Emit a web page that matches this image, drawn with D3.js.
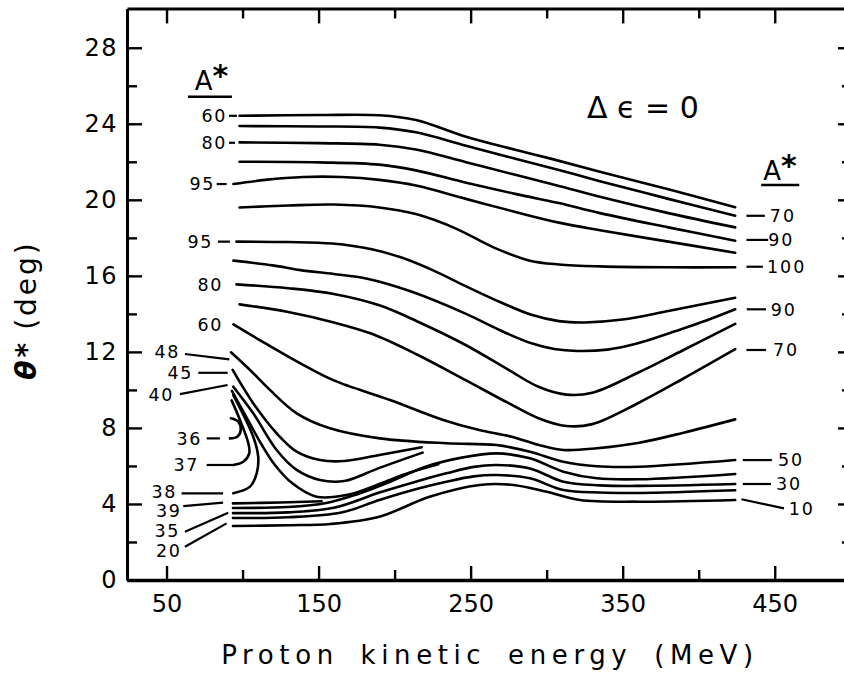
<!DOCTYPE html>
<html>
<head>
<meta charset="utf-8">
<script src="https://cdn.jsdelivr.net/npm/d3@7/dist/d3.min.js"></script>
<style>
  html, body { margin: 0; padding: 0; background: #fff; }
  svg { display: block; }
  text { font-family: "DejaVu Sans", sans-serif; fill: #000; }
</style>
</head>
<body>
<svg id="chart" width="844" height="682"></svg>
<script>
// ---------- axis ticks ----------
const energyMajorTicks = [50, 150, 250, 350, 450];
const energyMinorTicks = [100, 200, 300, 400];
const thetaMajorTicks = [0, 4, 8, 12, 16, 20, 24, 28];
const thetaMinorTicks = [2, 6, 10, 14, 18, 22, 26];

// ---------- curves: [proton kinetic energy (MeV), theta* (deg)] ----------
// upper family (flat, then falling)
const curveU1 = [[98,24.42],[150,24.46],[190,24.45],[214,24.2],[247,23.32],[280,22.62],[302,22.18],[335,21.48],[380,20.55],[424,19.61]];
const curveU2 = [[98,23.88],[150,23.86],[190,23.8],[214,23.55],[247,22.85],[280,22.15],[308,21.57],[335,20.98],[380,20.05],[424,19.16]];
const curveU3 = [[98,23.02],[150,22.98],[190,22.9],[214,22.65],[247,21.98],[280,21.3],[308,20.73],[335,20.16],[380,19.3],[424,18.55]];
const curveU4 = [[98,22.0],[150,21.97],[190,21.85],[214,21.55],[247,20.9],[280,20.3],[308,19.83],[335,19.3],[380,18.55],[424,17.85]];
const curveU5 = [[94,20.83],[115,21.05],[140,21.2],[165,21.2],[190,21.05],[214,20.75],[247,20.05],[280,19.35],[308,18.8],[335,18.4],[380,17.8],[424,17.22]];
const curveU6 = [[98,19.6],[130,19.7],[160,19.75],[190,19.6],[214,19.25],[240,18.5],[265,17.5],[289,16.8],[308,16.6],[335,16.5],[380,16.45],[424,16.45]];
// middle family (falling to a minimum, then rising)
const curveM1 = [[96,17.8],[130,17.78],[159,17.7],[185,17.4],[205,16.95],[225,16.3],[247,15.45],[270,14.6],[290,13.95],[308,13.62],[325,13.55],[350,13.7],[380,14.15],[424,14.85]];
const curveM2 = [[94,16.8],[120,16.55],[138,16.3],[160,16.1],[182,15.85],[210,15.2],[247,14.0],[269,13.15],[290,12.45],[305,12.15],[320,12.05],[340,12.12],[360,12.45],[385,13.1],[405,13.65],[424,14.24]];
const curveM3 = [[96,15.55],[130,15.35],[160,15.05],[190,14.45],[215,13.6],[247,12.35],[275,11.05],[295,10.15],[313,9.75],[330,9.85],[360,10.9],[390,12.1],[424,13.47]];
const curveM4 = [[98,14.5],[130,14.1],[160,13.55],[185,12.95],[215,11.85],[247,10.5],[275,9.3],[295,8.5],[313,8.1],[330,8.2],[360,9.3],[390,10.6],[424,12.14]];
const curveM5 = [[94,13.45],[115,12.45],[138,11.4],[160,10.5],[197,9.47],[232,8.42],[255,7.9],[277,7.54],[295,7.1],[311,6.84],[333,6.93],[361,7.22],[390,7.75],[424,8.45]];
// lower-left steep family
const curveA48 = [[92.4,11.98],[104.9,11.05],[118,10.0],[135.6,8.77],[157.5,7.98],[190.3,7.45],[234.2,7.19],[267,7.1],[289,6.75],[311,6.22],[333,5.98],[361,5.96],[424,6.31]];
const curveA45 = [[93.5,11.05],[107,9.3],[122.4,7.72],[135.6,6.75],[150.9,6.31],[167,6.26],[190,6.58],[217.8,6.98]];
const curveA40 = [[93.9,10.17],[107,8.77],[122.4,6.84],[135.6,5.79],[150.9,5.26],[167,5.21],[190,5.9],[218.4,6.7]];
const curveSteep4 = [[93,9.95],[103.5,8.42],[112.7,7.1],[121.3,6.05],[132.5,5.1],[148.7,4.38],[170,4.5],[190,5.05],[210,5.65],[228.7,6.09]];
const curveA38 = [[93.9,9.72],[107,7.54],[110.3,6.49],[109.3,5.61],[104.9,4.91],[93.9,4.56]];
const curveA37 = [[92.8,9.45],[98.3,8.42],[103.8,7.19],[104.4,6.66],[100.5,6.22],[93.9,6.05]];
const curveA36 = [[92.4,8.51],[97.2,8.33],[98.8,7.89],[96.5,7.54],[91.7,7.45]];
// bottom family
const curveA39 = [[93.7,4.03],[125,4.08],[152,4.14]];
const curveB1 = [[93.7,3.79],[130,3.84],[155,4.05],[175,4.5],[195,5.1],[220,5.95],[245,6.45],[267,6.66],[289,6.4],[311,5.7],[333,5.35],[361,5.3],[424,5.58]];
const curveB2 = [[93.7,3.52],[130,3.56],[160,3.8],[190,4.6],[215,5.2],[234,5.61],[252,5.95],[267,6.05],[289,5.87],[311,5.17],[335,4.98],[361,4.95],[424,5.05]];
const curveB3 = [[93.7,3.26],[130,3.3],[165,3.55],[190,4.21],[215,4.8],[234,5.17],[252,5.45],[267,5.52],[289,5.35],[311,4.73],[335,4.6],[361,4.58],[424,4.72]];
const curveB4 = [[93.7,2.84],[130,2.88],[158,2.95],[190,3.33],[223,4.38],[256,5.0],[278,5.0],[300,4.64],[322,4.21],[361,4.12],[424,4.21]];

const allCurves = [curveU1, curveU2, curveU3, curveU4, curveU5, curveU6,
  curveM1, curveM2, curveM3, curveM4, curveM5,
  curveA48, curveA45, curveA40, curveSteep4, curveA38, curveA37, curveA36,
  curveA39, curveB1, curveB2, curveB3, curveB4];

// ---------- A* labels (text, anchor energy, anchor theta) ----------
const leftLabelText  = ["60","80","95","95","80","60","48","45","40","36","37","38","39","35","20"];
const leftLabelE     = [89.7,89.7,81.9,80.5,87.1,87.1,58.8,67.4,54.9,73.3,71.3,56.9,59.9,58.8,59.9];
const leftLabelTheta = [24.42,23.0,20.83,17.8,15.55,13.45,12.0,10.9,9.73,7.45,6.05,4.62,3.62,2.6,1.55];
// leader lines [E1, theta1, E2, theta2]
const leftLeaders = [
  [91.1,24.42,96.3,24.42],[91.1,23.0,95.0,23.0],[83.0,20.83,89.5,20.83],[83.8,17.8,91.7,17.8],
  [62.1,11.89,91.3,11.61],[70.9,10.9,90.2,10.9],[58.8,9.78,90.2,10.26],
  [76.4,7.45,85.1,7.45],[76.4,6.05,93.9,6.05],[59.9,4.56,87.2,4.56],
  [61.0,3.89,87.2,4.07],[62.1,2.54,90.6,3.54],[62.1,1.75,89.5,2.98]
];
const rightLabelText  = ["70","90","100","90","70","50","30","10"];
const rightLabelE     = [446.8,445.7,444.9,447.3,448.8,452.1,450.8,459.2];
const rightLabelTheta = [19.16,17.89,16.48,14.24,12.1,6.31,5.05,3.73];
const rightLeaders = [
  [431.4,19.16,443.5,19.16],[431.4,17.89,445.7,17.89],[431.4,16.48,442.2,16.48],
  [431.6,14.24,444.2,14.24],[431.4,12.1,444.2,12.1],[429.0,6.31,448.1,6.31],
  [429.0,5.05,447.5,5.05],[428.1,4.25,456.1,3.77]
];

// ---------- drawing ----------
const svg = d3.select("#chart");
const x = d3.scaleLinear().domain([24, 499.5]).range([127, 850]);
const y = d3.scaleLinear().domain([0, 30.07]).range([580, 8.4]);

const axisStroke = 3;
function styleAxis(g, fontSize) {
  g.select(".domain").attr("stroke", "#000").attr("stroke-width", axisStroke);
  g.selectAll(".tick line").attr("stroke", "#000").attr("stroke-width", 2.4);
  g.selectAll(".tick text").attr("font-size", fontSize).attr("font-family", "DejaVu Sans").attr("fill", "#000");
}

// bottom axis
const gB = svg.append("g").attr("transform", `translate(0,${y(0)})`)
  .call(d3.axisBottom(x).tickValues(energyMajorTicks).tickSizeInner(-14).tickSizeOuter(0).tickPadding(15).tickFormat(d3.format("d")));
styleAxis(gB, 24);
gB.select(".domain").attr("stroke-width", 3.6);
const gBm = svg.append("g").attr("transform", `translate(0,${y(0)})`)
  .call(d3.axisBottom(x).tickValues(energyMinorTicks).tickSizeInner(-10).tickSizeOuter(0).tickFormat(""));
styleAxis(gBm, 0); gBm.select(".domain").remove();

// top axis
const gT = svg.append("g").attr("transform", `translate(0,${y(30.07)})`)
  .call(d3.axisTop(x).tickValues(energyMajorTicks).tickSizeInner(-15).tickSizeOuter(0).tickFormat(""));
styleAxis(gT, 0);
const gTm = svg.append("g").attr("transform", `translate(0,${y(30.07)})`)
  .call(d3.axisTop(x).tickValues(energyMinorTicks).tickSizeInner(-10).tickSizeOuter(0).tickFormat(""));
styleAxis(gTm, 0); gTm.select(".domain").remove();

// left axis
const gL = svg.append("g").attr("transform", `translate(${x(24)},0)`)
  .call(d3.axisLeft(y).tickValues(thetaMajorTicks).tickSizeInner(-15).tickSizeOuter(0).tickPadding(9).tickFormat(d3.format("d")));
styleAxis(gL, 24);
gL.selectAll(".tick text").attr("letter-spacing", 1.5);
const gLm = svg.append("g").attr("transform", `translate(${x(24)},0)`)
  .call(d3.axisLeft(y).tickValues(thetaMinorTicks).tickSizeInner(-10).tickSizeOuter(0).tickFormat(""));
styleAxis(gLm, 0); gLm.select(".domain").remove();

// right axis
const gR = svg.append("g").attr("transform", `translate(${x(499.5)},0)`)
  .call(d3.axisRight(y).tickValues(thetaMajorTicks).tickSizeInner(-12).tickSizeOuter(0).tickFormat(""));
styleAxis(gR, 0);
const gRm = svg.append("g").attr("transform", `translate(${x(499.5)},0)`)
  .call(d3.axisRight(y).tickValues(thetaMinorTicks).tickSizeInner(-8).tickSizeOuter(0).tickFormat(""));
styleAxis(gRm, 0); gRm.select(".domain").remove();

// curves
const line = d3.line().x(d => x(d[0])).y(d => y(d[1])).curve(d3.curveCatmullRom.alpha(0.5));
svg.append("g").selectAll("path").data(allCurves).join("path")
  .attr("d", line).attr("fill", "none").attr("stroke", "#000")
  .attr("stroke-width", 2.6).attr("stroke-linecap", "round").attr("stroke-linejoin", "round");

// leaders
const leaders = leftLeaders.concat(rightLeaders);
svg.append("g").selectAll("line").data(leaders).join("line")
  .attr("x1", d => x(d[0])).attr("y1", d => y(d[1]))
  .attr("x2", d => x(d[2])).attr("y2", d => y(d[3]))
  .attr("stroke", "#000").attr("stroke-width", 2.2);

// curve labels
svg.append("g").selectAll("text").data(leftLabelText).join("text")
  .attr("x", (d, i) => x(leftLabelE[i])).attr("y", (d, i) => y(leftLabelTheta[i]))
  .attr("dy", "0.36em").attr("text-anchor", "end").attr("font-size", 17.5).attr("letter-spacing", 1.6)
  .text(d => d);
svg.append("g").selectAll("text").data(rightLabelText).join("text")
  .attr("x", (d, i) => x(rightLabelE[i])).attr("y", (d, i) => y(rightLabelTheta[i]))
  .attr("dy", "0.36em").attr("text-anchor", "start").attr("font-size", 17.5).attr("letter-spacing", 2)
  .text(d => d);

// A* headers
function header(eCenter, thBase, eU1, eU2, thU) {
  const t = svg.append("text").attr("x", x(eCenter)).attr("y", y(thBase))
    .attr("text-anchor", "middle").attr("font-size", 26);
  t.append("tspan").text("A");
  t.append("tspan").attr("font-size", 30).attr("font-weight", "bold").attr("dy", -4).text("*");
  svg.append("line").attr("x1", x(eU1)).attr("x2", x(eU2)).attr("y1", y(thU)).attr("y2", y(thU))
    .attr("stroke", "#000").attr("stroke-width", 2.4);
}
header(79.5, 25.8, 64.1, 93.0, 25.42);
header(453.5, 21.03, 441.1, 466.1, 20.78);

// delta epsilon annotation
svg.append("text").attr("x", x(326.5)).attr("y", y(24.3)).attr("font-size", 30)
  .text("\u0394 \u03F5 = 0");

// axis titles
svg.append("text").attr("x", 490).attr("y", 664).attr("text-anchor", "middle")
  .attr("font-size", 26).attr("letter-spacing", 5.6).attr("word-spacing", 8)
  .text("Proton kinetic energy (MeV)");
const yt = svg.append("text").attr("transform", "translate(36,310) rotate(-90)")
  .attr("text-anchor", "middle").attr("font-size", 28).attr("letter-spacing", 3);
yt.append("tspan").attr("font-style", "italic").attr("font-weight", "bold").text("\u03B8");
yt.append("tspan").attr("font-weight", "bold").text("*");
yt.append("tspan").attr("dx", 10).text("(deg)");
</script>
</body>
</html>
